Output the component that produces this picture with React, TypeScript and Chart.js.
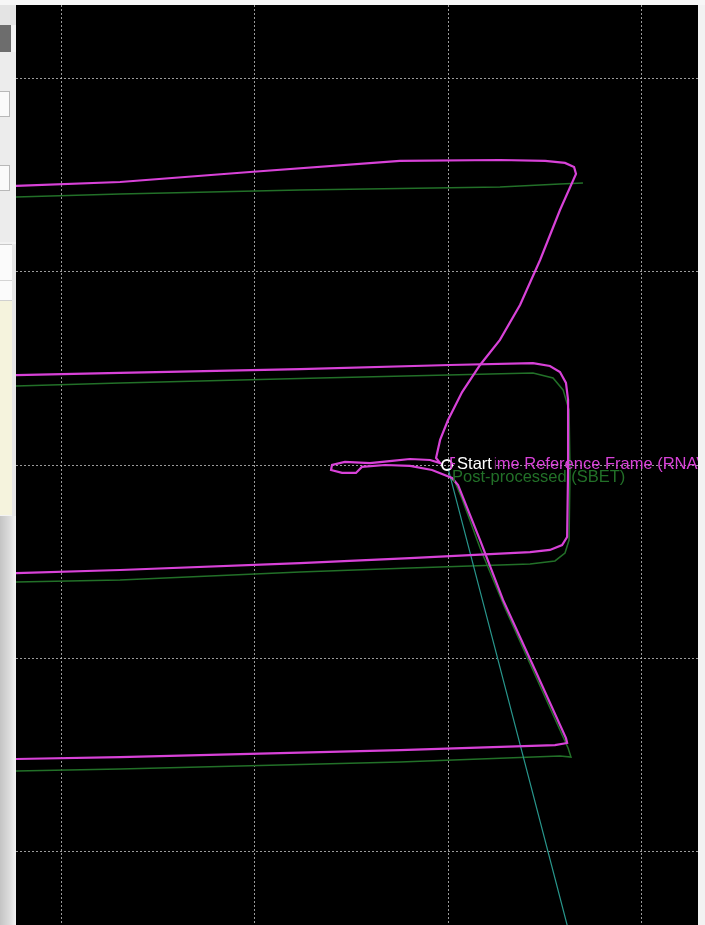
import React, { useEffect, useRef } from "react";
import { Chart, registerables } from "chart.js";

Chart.register(...registerables);

// Axis ranges (metres, local easting / northing relative to start)
const X_RANGE = [-223.8, 129.5];
const Y_RANGE = [-238.3, 238.3];
const X_GRID = [-200, -100, 0, 100];
const Y_GRID = [-200, -100, 0, 100, 200];

const START_POINT: [number, number] = [-0.5, 0];

const LABEL_RNAV = "Real-time Reference Frame (RNAV)";
const LABEL_SBET = "Post-processed (SBET)";
const LABEL_START = "Start";

// Real-time (RNAV) track, first continuous piece: top line -> diagonal -> start loop -> diagonal -> bottom line
const RNAV_TRACK_1: [number, number][] = [
  [-252.8, 142.5], [-223.8, 144.6], [-169.9, 146.6], [-102.6, 151.8], [-24.9, 157.5],
  [26.9, 158.0], [50.3, 157.5], [60.6, 156.5], [65.3, 154.4], [66.3, 150.8],
  [58.0, 132.1], [47.7, 106.2], [37.3, 82.9], [26.9, 64.8], [16.6, 51.8],
  [7.3, 37.8], [0, 23.3], [-4.1, 13.0], [-6.2, 3.6], [-4.1, 1.0],
  [-9.3, 2.6], [-19.7, 3.1], [-29.0, 2.1], [-40.4, 1.0], [-53.4, 1.6],
  [-60.1, 0], [-60.6, -2.6], [-54.9, -4.1], [-47.7, -4.1], [-44.6, -1.0],
  [-32.6, 0], [-19.7, -0.5], [-8.3, -2.6], [2.1, -6.7], [5.2, -10.4],
  [16.6, -38.9], [28.5, -69.9], [45.1, -106.2], [61.1, -141.5], [61.7, -144.0],
  [55.4, -145.1], [-24.9, -147.7], [-102.6, -149.7], [-169.9, -151.3], [-223.8, -152.3],
  [-252.8, -153.4],
];

// Real-time (RNAV) track, middle loop
const RNAV_TRACK_2: [number, number][] = [
  [-252.8, 45.1], [-223.8, 46.6], [-169.9, 47.7], [-76.7, 49.7], [1.0, 51.8],
  [44.0, 52.8], [52.8, 51.3], [58.0, 48.2], [61.1, 42.5], [62.2, 33.7],
  [62.2, -2.6], [61.7, -37.3], [59.1, -41.5], [52.8, -44.0], [42.5, -45.1],
  [-19.7, -48.2], [-76.7, -50.8], [-169.9, -54.4], [-223.8, -56.0], [-252.8, -57.0],
];

// Post-processed (SBET) track pieces
const SBET_TRACK_1: [number, number][] = [
  [-252.8, 137.8], [-223.8, 138.9], [-169.9, 140.4], [-76.7, 142.5], [26.9, 144.0],
  [58.0, 145.6], [69.9, 146.1],
];

const SBET_TRACK_2: [number, number][] = [
  [-252.8, 40.4], [-223.8, 40.9], [-169.9, 42.5], [-66.3, 45.1], [44.0, 47.7],
  [54.4, 45.1], [59.6, 38.9], [62.7, 28.5], [63.2, -2.6], [62.7, -38.9],
  [60.6, -45.6], [55.4, -49.7], [42.5, -51.3], [-19.7, -53.4], [-76.7, -55.4],
  [-169.9, -59.6], [-223.8, -60.6], [-252.8, -61.7],
];

const SBET_TRACK_3: [number, number][] = [
  [-252.8, -159.6], [-223.8, -158.5], [-169.9, -157.5], [-24.9, -153.9], [58.0, -150.8],
  [63.7, -151.3], [62.2, -146.6], [47.7, -114.5], [29.5, -74.1], [16.6, -43.0],
  [7.3, -17.6], [3.6, -8.8], [1.0, -6.7],
];

// Straight teal segment leaving the start point
const TEAL_TRACK: [number, number][] = [
  [0, -1.6], [61.7, -238.3], [68.4, -264.2],
];

const MAGENTA = "rgb(216, 66, 216)";
const GREEN = "rgb(34, 112, 40)";
const TEAL = "rgb(40, 150, 140)";
const GRID = "rgba(205, 205, 205, 0.75)";
const FONT = "16.5px 'Liberation Sans', Arial, sans-serif";

const toPts = (arr: [number, number][]) => arr.map(([x, y]) => ({ x, y }));

const bgPlugin = {
  id: "blackBg",
  beforeDraw(chart: any) {
    const { ctx, width, height } = chart;
    ctx.save();
    ctx.fillStyle = "#000";
    ctx.fillRect(0, 0, width, height);
    ctx.restore();
  },
};

const labelPlugin = {
  id: "startLabels",
  afterDatasetsDraw(chart: any) {
    const { ctx } = chart;
    const px = chart.scales.x.getPixelForValue(START_POINT[0]);
    const py = chart.scales.y.getPixelForValue(START_POINT[1]);
    ctx.save();
    ctx.font = FONT;
    ctx.textBaseline = "alphabetic";
    ctx.textAlign = "left";
    ctx.fillStyle = MAGENTA;
    ctx.fillText(LABEL_RNAV, px + 2, py + 4);
    const w = ctx.measureText(LABEL_START).width;
    ctx.fillStyle = "#000";
    ctx.fillRect(px + 8, py - 9, w + 5, 15);
    ctx.fillStyle = "#fff";
    ctx.fillText(LABEL_START, px + 10, py + 4);
    ctx.fillStyle = GREEN;
    ctx.fillText(LABEL_SBET, px + 5, py + 17);
    ctx.restore();
  },
};

const lineDs = (label: string, data: [number, number][], color: string, width: number) => ({
  label,
  data: toPts(data),
  showLine: true,
  borderColor: color,
  backgroundColor: color,
  borderWidth: width,
  pointRadius: 0,
  fill: false,
  tension: 0,
});

export default function App() {
  const ref = useRef<HTMLCanvasElement | null>(null);

  useEffect(() => {
    if (!ref.current) return;
    const chart = new Chart(ref.current, {
      type: "scatter",
      data: {
        datasets: [
          {
            label: LABEL_START,
            data: [{ x: START_POINT[0], y: START_POINT[1] }],
            showLine: false,
            pointRadius: 5,
            pointBorderWidth: 2,
            pointBorderColor: "#fff",
            pointBackgroundColor: "rgba(0,0,0,0)",
          } as any,
          lineDs(LABEL_RNAV, RNAV_TRACK_1, MAGENTA, 2.2),
          lineDs(LABEL_RNAV + " 2", RNAV_TRACK_2, MAGENTA, 2.2),
          lineDs("Teal", TEAL_TRACK, TEAL, 1.2),
          lineDs(LABEL_SBET, SBET_TRACK_1, GREEN, 1.5),
          lineDs(LABEL_SBET + " 2", SBET_TRACK_2, GREEN, 1.5),
          lineDs(LABEL_SBET + " 3", SBET_TRACK_3, GREEN, 1.5),
        ],
      },
      options: {
        animation: false,
        responsive: false,
        maintainAspectRatio: false,
        layout: { padding: 0, autoPadding: false },
        plugins: {
          legend: { display: false },
          tooltip: { enabled: false },
        },
        scales: {
          x: {
            type: "linear",
            min: X_RANGE[0],
            max: X_RANGE[1],
            afterBuildTicks: (scale: any) => {
              scale.ticks = X_GRID.map((v) => ({ value: v }));
            },
            ticks: { display: false },
            grid: { color: GRID, lineWidth: 1, drawTicks: false },
            border: { display: false, dash: [2, 2] },
          },
          y: {
            type: "linear",
            min: Y_RANGE[0],
            max: Y_RANGE[1],
            afterBuildTicks: (scale: any) => {
              scale.ticks = Y_GRID.map((v) => ({ value: v }));
            },
            ticks: { display: false },
            grid: { color: GRID, lineWidth: 1, drawTicks: false },
            border: { display: false, dash: [2, 2] },
          },
        },
      },
      plugins: [bgPlugin, labelPlugin],
    });
    return () => chart.destroy();
  }, []);

  return (
    <div
      style={{
        position: "fixed",
        left: 0,
        top: 0,
        width: 705,
        height: 925,
        overflow: "hidden",
        background: "#f2f2f2",
      }}
    >
      {/* top strip */}
      <div style={{ position: "absolute", left: 0, top: 0, width: 705, height: 5, background: "#f7f7f7" }} />
      {/* left side UI strip */}
      <div style={{ position: "absolute", left: 0, top: 5, width: 16, height: 20, background: "#e4e4e4" }} />
      <div style={{ position: "absolute", left: 0, top: 25, width: 11, height: 27, background: "#6d6d6d" }} />
      <div style={{ position: "absolute", left: 0, top: 52, width: 16, height: 190, background: "#ececec" }} />
      <div style={{ position: "absolute", left: -2, top: 91, width: 10, height: 24, background: "#fafafa", border: "1px solid #b8b8b8" }} />
      <div style={{ position: "absolute", left: -2, top: 165, width: 10, height: 24, background: "#fafafa", border: "1px solid #b8b8b8" }} />
      <div style={{ position: "absolute", left: 0, top: 244, width: 12, height: 56, background: "#fbfbfb", borderTop: "1px solid #c8c8c8" }} />
      <div style={{ position: "absolute", left: 0, top: 280, width: 12, height: 1, background: "#d4d4d4" }} />
      <div style={{ position: "absolute", left: 0, top: 300, width: 12, height: 214, background: "#f5f3dd", borderTop: "1px solid #d0d0d0" }} />
      <div style={{ position: "absolute", left: 12, top: 244, width: 4, height: 272, background: "#e6e6e6" }} />
      <div
        style={{
          position: "absolute",
          left: 0,
          top: 516,
          width: 16,
          height: 409,
          background: "linear-gradient(to right, #c4c4c4, #dcdcdc 60%, #f4f4f4)",
        }}
      />
      <canvas
        ref={ref}
        width={682}
        height={920}
        style={{ position: "absolute", left: 16, top: 5, width: 682, height: 920 }}
      />
    </div>
  );
}
